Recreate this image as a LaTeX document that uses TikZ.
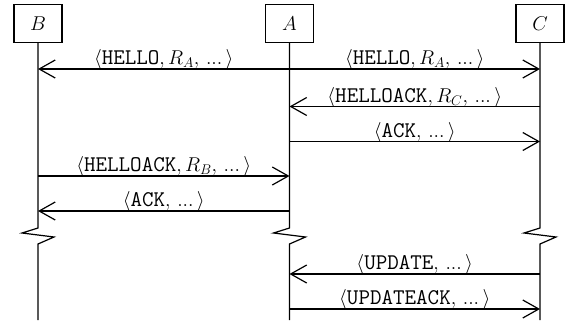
\RequirePackage{fix-cm}
\documentclass[tikz,border=0pt]{standalone}
\usepackage{fontspec}
\setmonofont[Scale=1.12]{Latin Modern Mono}
\usetikzlibrary{arrows.meta}
\newcommand\mydots{\,\mathord{.}\mathord{.}\mathord{.}\,}
\begin{document}
\begin{tikzpicture}[x=1pt,y=-1pt,
  font=\fontsize{20}{24}\selectfont,
  actor/.style={draw, line width=1.2pt, minimum width=48pt, minimum height=38pt, inner sep=0pt},
  life/.style={line width=1.2pt},
  msg/.style={line width=1.2pt, -{Straight Barb[length=16pt, width=18pt, line width=1.2pt]}},
  lbl/.style={midway, anchor=base, inner sep=0pt, yshift=4.5pt}]
\useasboundingbox (0,0) rectangle (569,324);
\node[actor] (B) at (38,23.5) {$B$};
\node[actor] (A) at (289.5,23.5) {$A$};
\node[actor] (C) at (540,23.5) {$C$};
% lifelines with breaks
\foreach \n in {B,A,C}{
  \draw[life] (\n.south) -- (\n.south |- 0,228) -- ++(-16,5) -- ++(32,4) -- ++(-16,7) -- (\n.south |- 0,320);
}
% message end points
\foreach \n/\l in {B/b,A/a,C/c}{
  \foreach \i/\y in {1/69,2/106.5,3/141.5,4/176,5/211,6/274,7/309}{
    \coordinate (\l\i) at (\n.south |- 0,\y);
  }
}
\draw[msg] (a1) -- node[lbl]{$\langle\texttt{HELLO}, R_A, \mydots\rangle$} (b1);
\draw[msg] (a1) -- node[lbl]{$\langle\texttt{HELLO}, R_A, \mydots\rangle$} (c1);
\draw[msg] (c2) -- node[lbl]{$\langle\texttt{HELLOACK}, R_C, \mydots\rangle$} (a2);
\draw[msg] (a3) -- node[lbl]{$\langle\texttt{ACK}, \mydots\rangle$} (c3);
\draw[msg] (b4) -- node[lbl]{$\langle\texttt{HELLOACK}, R_B, \mydots\rangle$} (a4);
\draw[msg] (a5) -- node[lbl]{$\langle\texttt{ACK}, \mydots\rangle$} (b5);
\draw[msg] (c6) -- node[lbl]{$\langle\texttt{UPDATE}, \mydots\rangle$} (a6);
\draw[msg] (a7) -- node[lbl]{$\langle\texttt{UPDATEACK}, \mydots\rangle$} (c7);
\end{tikzpicture}
\end{document}
